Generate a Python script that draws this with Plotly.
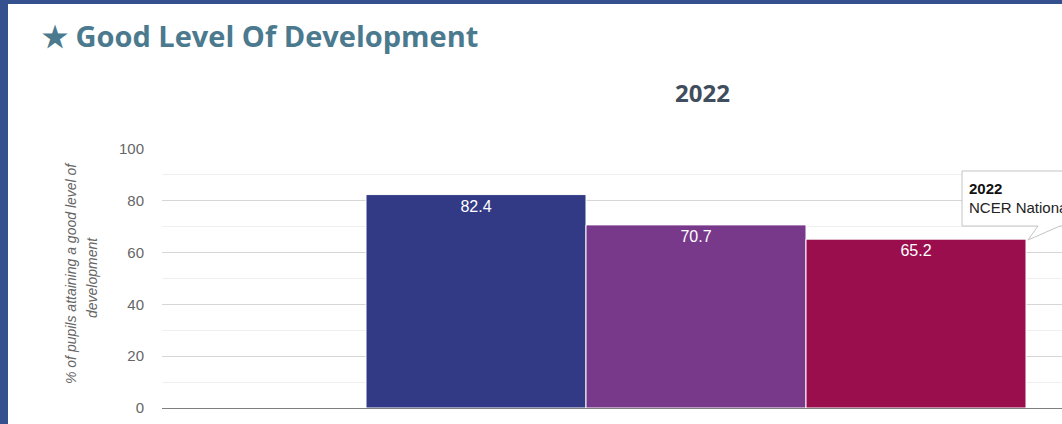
import plotly.graph_objects as go

# data
categories = ["2022"]
series_names = ["School", "Local Authority", "NCER National"]
series_values = [[82.4], [70.7], [65.2]]
series_colors = ["#323a86", "#78398b", "#9a0e4e"]
y_ticks = [0, 20, 40, 60, 80, 100]

W, H = 1062, 424
PL, PR, PT, PB = 162, 0, 149, 16
plot_w = W - PL - PR
plot_h = H - PT - PB

ARIAL = 'Liberation Sans, Arial, sans-serif'


def px(x):
    """page x pixel -> paper x"""
    return (x - PL) / plot_w


def py(y):
    """page y pixel -> paper y"""
    return (H - PB - y) / plot_h


fig = go.Figure()

for name, vals, col in zip(series_names, series_values, series_colors):
    fig.add_trace(go.Bar(
        x=categories,
        y=vals,
        name=name,
        marker=dict(color=col, line=dict(color='white', width=1)),
        text=[f"{v:.1f}" for v in vals],
        textposition='inside',
        insidetextanchor='end',
        textangle=0,
        constraintext='none',
        textfont=dict(color='white', size=16, family=ARIAL),
        hoverinfo='skip',
    ))

# blue frame around the panel
fig.add_shape(type='rect', xref='paper', yref='paper',
              x0=px(0), x1=px(8), y0=py(H), y1=py(0),
              fillcolor='#35508f', line=dict(width=0), layer='above')
fig.add_shape(type='rect', xref='paper', yref='paper',
              x0=px(0), x1=px(W), y0=py(4), y1=py(0),
              fillcolor='#35508f', line=dict(width=0), layer='above')

# tooltip box (cut off on the right)
pts = [(962, 171), (1090, 171), (1090, 226), (1060, 226), (1028, 240), (1038, 226), (962, 226)]
path = "M " + " L ".join(f"{px(a):.5f},{py(b):.5f}" for a, b in pts) + " Z"
fig.add_shape(type='path', xref='paper', yref='paper', path=path,
              fillcolor='white', line=dict(color='#c4c4c4', width=1), layer='above')
fig.add_annotation(xref='paper', yref='paper', x=px(967), y=py(188),
                   xanchor='left', yanchor='middle', showarrow=False,
                   text="<b>2022</b>",
                   font=dict(size=15, color='#111', family=ARIAL))
fig.add_annotation(xref='paper', yref='paper', x=px(967), y=py(207),
                   xanchor='left', yanchor='middle', showarrow=False,
                   text="NCER National",
                   font=dict(size=15, color='#222', family=ARIAL))

# titles
fig.add_annotation(xref='paper', yref='paper', x=px(40), y=py(35),
                   xanchor='left', yanchor='middle', showarrow=False,
                   text="★ Good Level Of Development",
                   font=dict(size=29, color='#4b7a8f', family='Open Sans, sans-serif', weight=700))
fig.add_annotation(xref='paper', yref='paper', x=px(702), y=py(92),
                   xanchor='center', yanchor='middle', showarrow=False,
                   text="2022",
                   font=dict(size=24, color='#3f4d5c', family='Open Sans, sans-serif', weight=700))

# y axis title, two lines
fig.add_annotation(xref='paper', yref='paper', x=px(71), y=py(273),
                   xanchor='center', yanchor='middle', showarrow=False, textangle=-90,
                   text="% of pupils attaining a good level of",
                   font=dict(size=14, color='#666', family=ARIAL, style='italic'))
fig.add_annotation(xref='paper', yref='paper', x=px(92), y=py(278),
                   xanchor='center', yanchor='middle', showarrow=False, textangle=-90,
                   text="development",
                   font=dict(size=14, color='#666', family=ARIAL, style='italic'))

# x range so the group lands where it does in the picture
group_w = 0.8
unit = 660 / group_w
x_lo = (PL - 696) / unit
x_hi = (W - PR - 696) / unit

fig.update_layout(
    width=W, height=H,
    margin=dict(l=PL, r=PR, t=PT, b=PB),
    paper_bgcolor='white',
    plot_bgcolor='white',
    showlegend=False,
    barmode='group',
    bargap=1 - group_w,
    bargroupgap=0,
    hovermode=False,
    xaxis=dict(range=[x_lo, x_hi], showticklabels=False, ticks='',
               showgrid=False, zeroline=False,
               showline=True, linecolor='#7f7f7f', linewidth=1),
    yaxis=dict(range=[0, 100], tickvals=y_ticks,
               showgrid=True, gridcolor='#d6d6d6', gridwidth=1,
               minor=dict(dtick=10, showgrid=True, gridcolor='#efefef'),
               zeroline=False, showline=False,
               ticks='outside', ticklen=14, tickcolor='rgba(0,0,0,0)',
               tickfont=dict(size=15, color='#666', family=ARIAL)),
)

fig.write_html("out.html", config={'displayModeBar': False},
               post_script="document.body.style.margin='0';")
